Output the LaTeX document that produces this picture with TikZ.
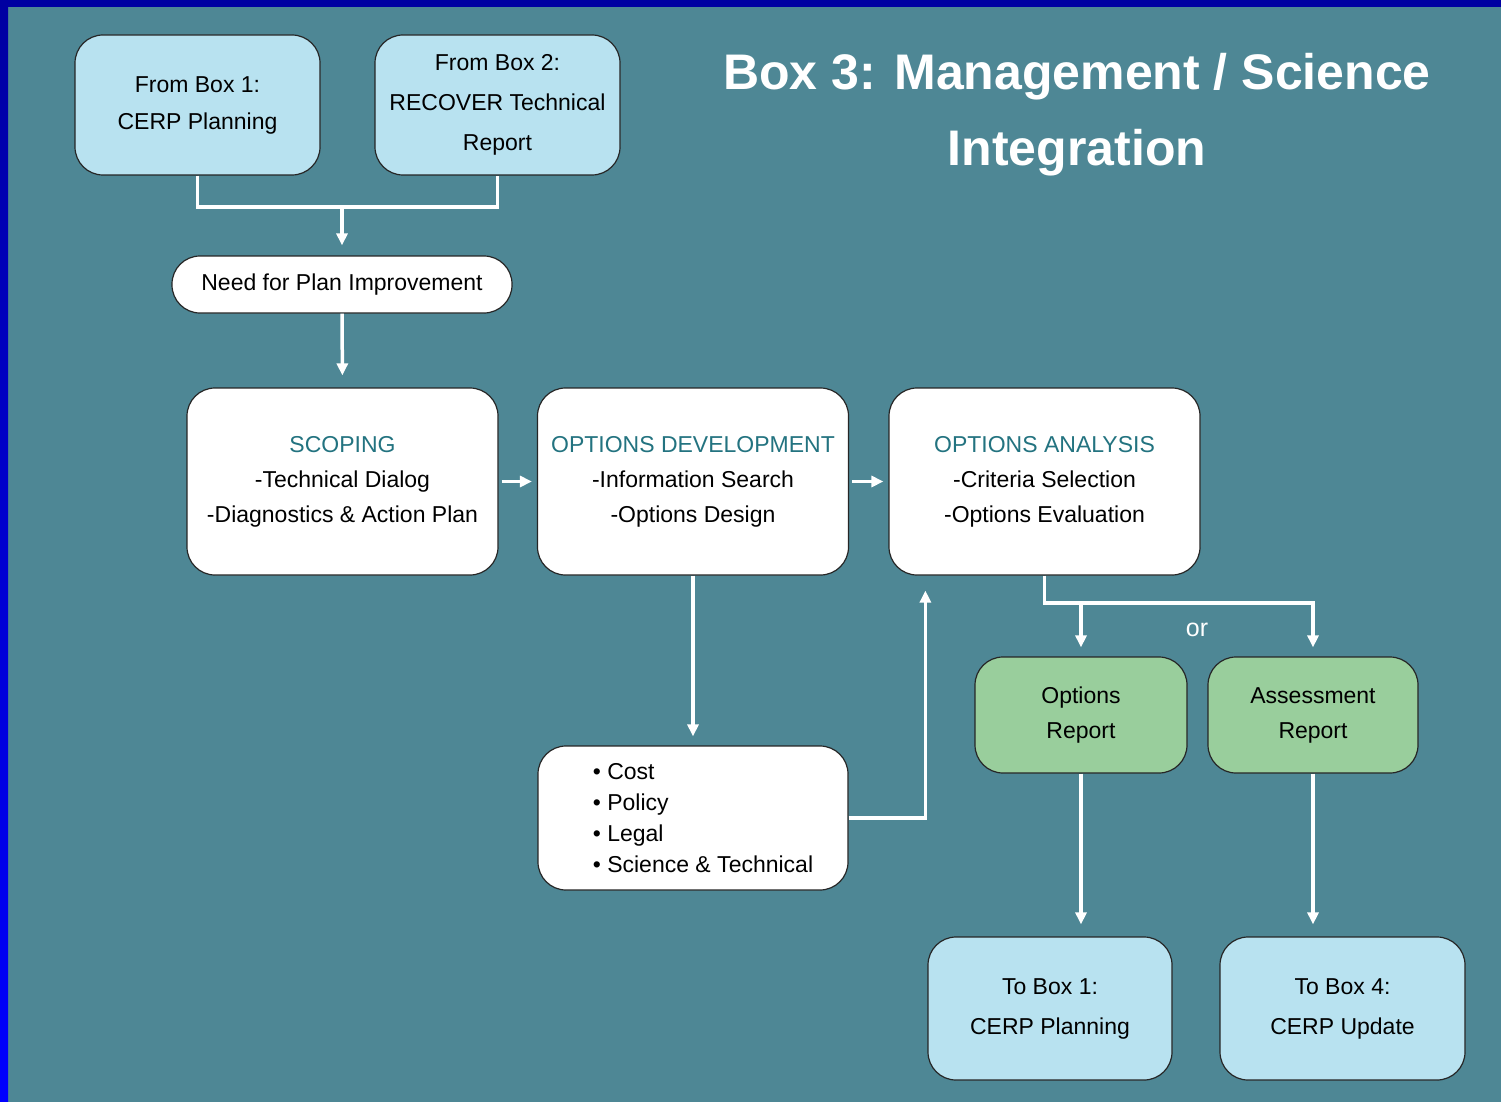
\documentclass[tikz,border=0pt]{standalone}
\usepackage{fontspec}
\setmainfont{Liberation Sans}
\usetikzlibrary{calc}
\usetikzlibrary{arrows.meta}
\definecolor{tealbg}{RGB}{78,135,149}
\definecolor{paleblue}{RGB}{184,226,240}
\definecolor{palegreen}{RGB}{153,206,156}
\definecolor{headteal}{RGB}{35,115,128}
\tikzset{
  box/.style={draw=black!85, line width=1.2pt, rounded corners=28pt, align=center, inner sep=0pt},
  bluebox/.style={box, fill=paleblue},
  whitebox/.style={box, fill=white},
  greenbox/.style={box, fill=palegreen},
  link/.style={draw=white, line width=3.5pt},
  arr/.style={link, -{Triangle[length=12pt,width=11pt]}},
  heading/.style={text=headteal}
}

\begin{document}
\begin{tikzpicture}[x=1pt,y=-1pt]
	\fill [tealbg] (0,0) rectangle (1501,1102);
	\useasboundingbox (0,0) rectangle (1501,1102);
	\shade [top color=blue!63!black, bottom color=blue] (0,0) rectangle (8,1102);
	\fill [blue!63!black] (0,0) rectangle (1501,7);
	\node [text=white, align=center, font={\fontsize{50}{76}\selectfont\bfseries}] (title) at (1077,115) {Box 3: Management / Science\\Integration};
	\node [bluebox, minimum width=245pt, minimum height=140pt, font={\fontsize{23}{37}\selectfont}] (frombox1) at (197.5,105) {From Box 1:\\CERP Planning};
	\node [bluebox, minimum width=245pt, minimum height=140pt, font={\fontsize{23}{40}\selectfont}] (frombox2) at (497.5,105) {From Box 2:\\RECOVER Technical\\Report};
	\node [whitebox, minimum width=340pt, minimum height=57pt, font={\fontsize{23}{28}\selectfont}] (need) at (342,284.5) {Need for Plan Improvement};
	\node [whitebox, minimum width=311pt, minimum height=187pt, font={\fontsize{23}{35}\selectfont}] (scoping) at (342.5,481.5) {\textcolor{headteal}{SCOPING}\\-Technical Dialog\\-Diagnostics \& Action Plan};
	\node [whitebox, minimum width=311pt, minimum height=187pt, font={\fontsize{23}{35}\selectfont}] (optdev) at (693,481.5) {\textcolor{headteal}{OPTIONS DEVELOPMENT}\\-Information Search\\-Options Design};
	\node [whitebox, minimum width=311pt, minimum height=187pt, font={\fontsize{23}{35}\selectfont}] (optana) at (1044.5,481.5) {\textcolor{headteal}{OPTIONS ANALYSIS}\\-Criteria Selection\\-Options Evaluation};
	\node [whitebox, minimum width=310pt, minimum height=144pt, align=left, font={\fontsize{23}{31}\selectfont}] (factors) at (693,818) {\hspace*{20pt}\textbullet\ Cost\\\hspace*{20pt}\textbullet\ Policy\\\hspace*{20pt}\textbullet\ Legal\\\hspace*{20pt}\textbullet\ Science \& Technical};
	\node [greenbox, minimum width=212pt, minimum height=116pt, font={\fontsize{23}{35}\selectfont}] (optrep) at (1081,715) {Options\\Report};
	\node [greenbox, minimum width=210pt, minimum height=116pt, font={\fontsize{23}{35}\selectfont}] (assrep) at (1313,715) {Assessment\\Report};
	\node [bluebox, minimum width=244pt, minimum height=143pt, font={\fontsize{23}{40}\selectfont}] (tobox1) at (1050,1008.5) {To Box 1:\\CERP Planning};
	\node [bluebox, minimum width=245pt, minimum height=143pt, font={\fontsize{23}{40}\selectfont}] (tobox4) at (1342.5,1008.5) {To Box 4:\\CERP Update};
	\node [text=white, font={\fontsize{25}{30}\selectfont}] (or) at (1197,630) {or};
	\coordinate (merge) at (342,207);
	\coordinate (split) at (1044.5,603);
	\draw [link] (frombox1.south) |- (merge) -| (frombox2.south);
	\draw [arr, shorten >=10pt] (merge) -- (need.north);
	\draw [arr, shorten >=12pt] (need.south) -- (scoping.north);
	\draw [arr, shorten <=3pt, shorten >=5pt] (scoping.east) -- (optdev.west);
	\draw [arr, shorten <=3pt, shorten >=5pt] (optdev.east) -- (optana.west);
	\draw [arr, shorten >=9pt] (optdev.south) -- (factors.north);
	\draw [arr, shorten >=15pt] (factors.east) -| ($(optana.south west)+(37,0)$);
	\draw [arr, shorten >=9pt] (optana.south) -- (split) -| (assrep.north);
	\draw [arr, shorten >=9pt] (split -| optrep.north) -- (optrep.north);
	\draw [arr, shorten >=12pt] (optrep.south) -- (optrep.south |- tobox1.north);
	\draw [arr, shorten >=12pt] (assrep.south) -- (assrep.south |- tobox4.north);
\end{tikzpicture}
\end{document}
